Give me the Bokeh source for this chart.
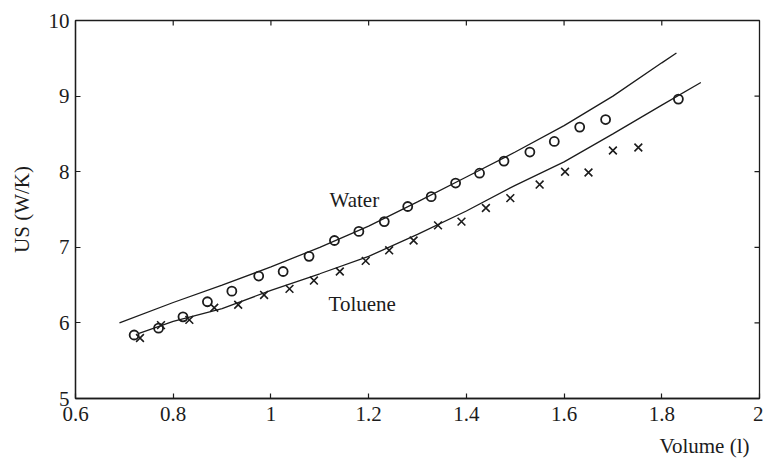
import math

from bokeh.plotting import figure
from bokeh.models import FixedTicker, Title
from bokeh.core.properties import value
from bokeh.embed import file_html
from bokeh.resources import INLINE

# Measured heat-transfer coefficient UA vs. liquid volume
vol_water = [0.72, 0.77, 0.82, 0.87, 0.92, 0.975, 1.025, 1.078, 1.13, 1.18, 1.232,
             1.28, 1.328, 1.378, 1.427, 1.477, 1.53, 1.58, 1.632, 1.685, 1.834]
us_water = [5.84, 5.93, 6.08, 6.28, 6.42, 6.62, 6.68, 6.88, 7.09, 7.21, 7.34,
            7.54, 7.67, 7.85, 7.98, 8.14, 8.26, 8.40, 8.59, 8.69, 8.96]

vol_toluene = [0.732, 0.775, 0.833, 0.884, 0.933, 0.986, 1.038, 1.088, 1.141, 1.194, 1.242,
               1.292, 1.342, 1.39, 1.44, 1.49, 1.55, 1.602, 1.65, 1.70, 1.752]
us_toluene = [5.80, 5.97, 6.04, 6.20, 6.24, 6.37, 6.45, 6.56, 6.68, 6.82, 6.96,
              7.09, 7.29, 7.34, 7.52, 7.65, 7.83, 8.00, 7.99, 8.28, 8.32]

# Model curves
model_water_vol = [0.69, 0.8, 0.9, 1.0, 1.1, 1.2, 1.3, 1.4, 1.5, 1.6, 1.7, 1.8, 1.83]
model_water_us = [6.00, 6.27, 6.50, 6.74, 7.00, 7.28, 7.60, 7.93, 8.26, 8.61, 9.00, 9.44, 9.57]
model_toluene_vol = [0.73, 0.8, 0.9, 1.0, 1.1, 1.2, 1.3, 1.4, 1.5, 1.6, 1.7, 1.8, 1.88]
model_toluene_us = [5.86, 6.02, 6.19, 6.43, 6.65, 6.88, 7.17, 7.48, 7.82, 8.13, 8.50, 8.88, 9.18]

x_ticks = [0.6, 0.8, 1, 1.2, 1.4, 1.6, 1.8, 2]
x_tick_labels = ["0.6", "0.8", "1", "1.2", "1.4", "1.6", "1.8", "2"]
y_ticks = [5, 6, 7, 8, 9, 10]
y_tick_labels = ["5", "6", "7", "8", "9", "10"]

X_MIN, X_MAX = 0.6, 2
Y_MIN, Y_MAX = 5, 10

INK = "#1c1c1c"
FONT = "Liberation Serif"

p = figure(width=763, height=465, x_range=(X_MIN, X_MAX), y_range=(Y_MIN, Y_MAX),
           output_backend="svg", toolbar_location=None,
           min_border_left=75, min_border_right=4, min_border_top=20, min_border_bottom=66)
p.background_fill_color = "white"
p.border_fill_color = "white"
p.outline_line_color = INK
p.outline_line_width = 1.3
p.grid.visible = False


def style_axis(ax, ticks, labels):
    ax.ticker = FixedTicker(ticks=ticks)
    ax.major_label_overrides = {t: s for t, s in zip(ticks, labels)}
    ax.axis_line_color = INK
    ax.axis_line_width = 1.3
    ax.major_tick_line_color = INK
    ax.major_tick_line_width = 1.2
    ax.major_tick_in = 5
    ax.major_tick_out = 0
    ax.minor_tick_line_color = None
    ax.major_label_text_font = FONT
    ax.major_label_text_font_size = "21px"
    ax.major_label_text_color = INK


xa = p.xaxis[0]
style_axis(xa, x_ticks, x_tick_labels)
xa.major_label_standoff = 8

ya = p.yaxis[0]
style_axis(ya, y_ticks, y_tick_labels)
ya.major_label_standoff = 6
ya.axis_label = "US (W/K)"
ya.axis_label_text_font = FONT
ya.axis_label_text_font_size = "21px"
ya.axis_label_text_font_style = "normal"
ya.axis_label_text_color = INK
ya.axis_label_standoff = 12

# x-axis title, right-aligned beneath the tick labels
p.add_layout(Title(text="Volume (l)", align="right", offset=10,
                   text_font=FONT, text_font_size="21px", text_font_style="normal",
                   text_color=INK, standoff=16), "below")

# Inward tick marks along the top and right edges of the frame
inner_x = x_ticks[1:-1]
inner_y = y_ticks[1:-1]
p.scatter(inner_x, [Y_MAX] * len(inner_x), marker="dash", angle=math.pi / 2,
          size=10, line_color=INK, line_width=1.2)
p.scatter([X_MAX] * len(inner_y), inner_y, marker="dash",
          size=10, line_color=INK, line_width=1.2)

# Model curves
p.line(model_water_vol, model_water_us, line_color=INK, line_width=1.3)
p.line(model_toluene_vol, model_toluene_us, line_color=INK, line_width=1.3)

# Measurements
p.scatter(vol_water, us_water, marker="circle", size=9, fill_color=None,
          line_color=INK, line_width=1.8)
p.scatter(vol_toluene, us_toluene, marker="x", size=11, line_color=INK, line_width=1.6)

p.text(x=[1.12], y=[7.63], text=["Water"], text_font=value(FONT),
       text_font_size="21px", text_color=INK, text_baseline="alphabetic", text_align="left")
p.text(x=[1.118], y=[6.25], text=["Toluene"], text_font=value(FONT),
       text_font_size="21px", text_color=INK, text_baseline="alphabetic", text_align="left")

open("out.html", "w").write(file_html(p, INLINE))
